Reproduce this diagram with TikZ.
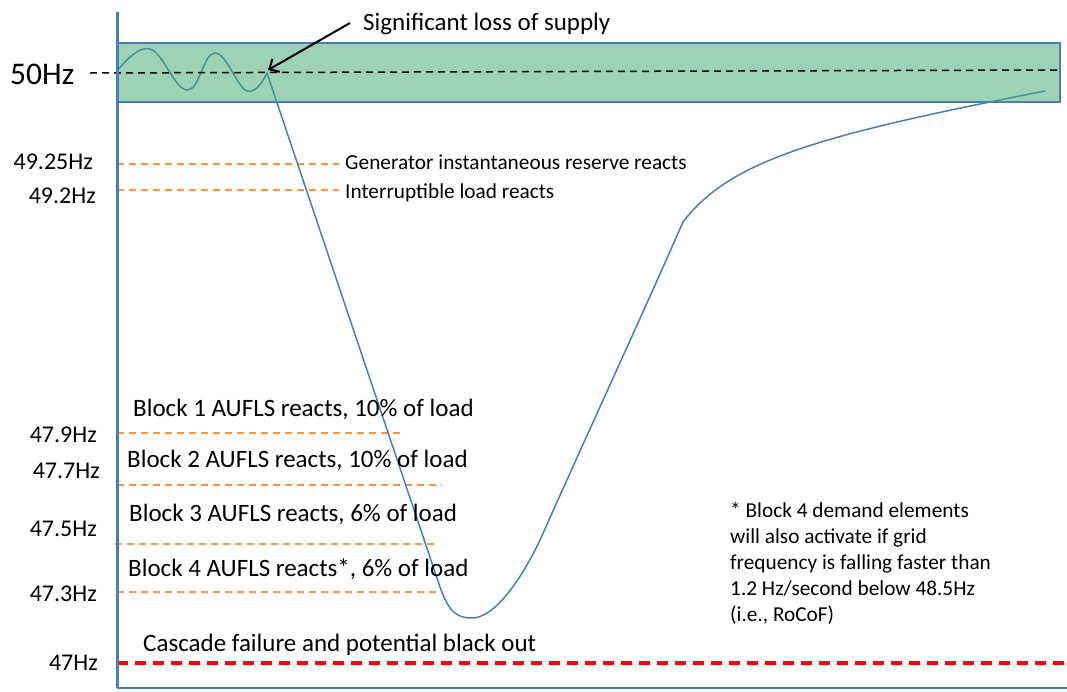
\documentclass[tikz,border=0pt]{standalone}
\usepackage{fontspec}
\setmainfont{Carlito}
\usetikzlibrary{arrows.meta}
\definecolor{axisblue}{RGB}{74,126,187}
\definecolor{bandgreen}{RGB}{60,168,108}
\definecolor{lvlorange}{RGB}{247,150,70}
\begin{document}
\begin{tikzpicture}[x=1pt,y=-1pt,
  ylbl/.style={inner sep=0pt, anchor=base east, font=\fontsize{24}{29}\selectfont},
  bigtxt/.style={inner sep=0pt, anchor=base west, font=\fontsize{25}{30}\selectfont},
  midtxt/.style={inner sep=0pt, anchor=base west, font=\fontsize{21.3}{26}\selectfont},
  lvl/.style={lvlorange, line width=1.5pt, dash pattern=on 7pt off 5pt},
  curve/.style={axisblue, line width=1.5pt, line join=round, line cap=round},
]
\useasboundingbox (0,0) rectangle (1067,691);
% level lines
\draw[lvl] (117,164) -- (339,164);
\draw[lvl] (117,190) -- (339,190);
\draw[lvl] (117,433) -- (403,433);
\draw[lvl] (117,485) -- (442,485);
\draw[lvl] (115,544) -- (437,544);
\draw[lvl] (117,592) -- (442,592);
% frequency curve
\draw[curve] plot[smooth, tension=0.7] coordinates {(118,70) (150,49) (187,90) (215,53) (247,91) (267,73)};
\draw[curve] (267,73) -- (440,587) .. controls (449,613) and (458,618) .. (472,618)
  .. controls (495,618) and (522,578) .. (540,540)
  .. controls (580,450) and (640,320) .. (683,222)
  .. controls (730,160) and (820,135) .. (1045,91);
% band
\fill[bandgreen, fill opacity=0.5] (117,43) rectangle (1060,102);
\draw[axisblue, line width=1.5pt] (117,43) rectangle (1060,102);
\draw[black, line width=1.5pt, dash pattern=on 7pt off 5pt] (90,73) -- (1057,70);
% arrow
\node[bigtxt] (sig) at (363,30) {Significant loss of supply};
\coordinate (arrS) at (350,23);
\coordinate (loss) at (268,70);
\draw[black, line width=2pt, -{Straight Barb[length=8pt,width=15pt]}] (arrS) -- (loss);
% red line
\draw[red, line width=3.5pt, dash pattern=on 11pt off 7pt] (117,663) -- (1067,663);
% axes
\draw[axisblue, line width=3pt] (117,12) -- (117,688);
\draw[axisblue, line width=2pt] (117,688) -- (1067,688);
% labels
\node[inner sep=0pt, anchor=base west, font=\fontsize{31.5}{37}\selectfont] (f50) at (10,84) {50Hz};
\node[ylbl] (f4925) at (93,169) {49.25Hz};
\node[ylbl] (f492) at (96,203) {49.2Hz};
\node[ylbl] (f479) at (97,442) {47.9Hz};
\node[ylbl] (f477) at (100,478) {47.7Hz};
\node[ylbl] (f475) at (97,536) {47.5Hz};
\node[ylbl] (f473) at (97,601) {47.3Hz};
\node[ylbl] (f47) at (98,670) {47Hz};
\node[midtxt] (gen) at (345,169) {Generator instantaneous reserve reacts};
\node[midtxt] (intl) at (345,198) {Interruptible load reacts};
\node[bigtxt] (b1) at (133,416) {Block 1 AUFLS reacts, 10\% of load};
\node[bigtxt] (b2) at (127,467) {Block 2 AUFLS reacts, 10\% of load};
\node[bigtxt] (b3) at (129,521) {Block 3 AUFLS reacts, 6\% of load};
\node[bigtxt] (b4) at (128,576) {Block 4 AUFLS reacts*, 6\% of load};
\node[bigtxt] (casc) at (143,651) {Cascade failure and potential black out};
\node[midtxt] (n1) at (730,517) {* Block 4 demand elements};
\node[midtxt] (n2) at (730,543) {will also activate if grid};
\node[midtxt] (n3) at (730,569) {frequency is falling faster than};
\node[midtxt] (n4) at (730,595) {1.2 Hz/second below 48.5Hz};
\node[midtxt] (n5) at (730,621) {(i.e., RoCoF)};
\end{tikzpicture}
\end{document}
